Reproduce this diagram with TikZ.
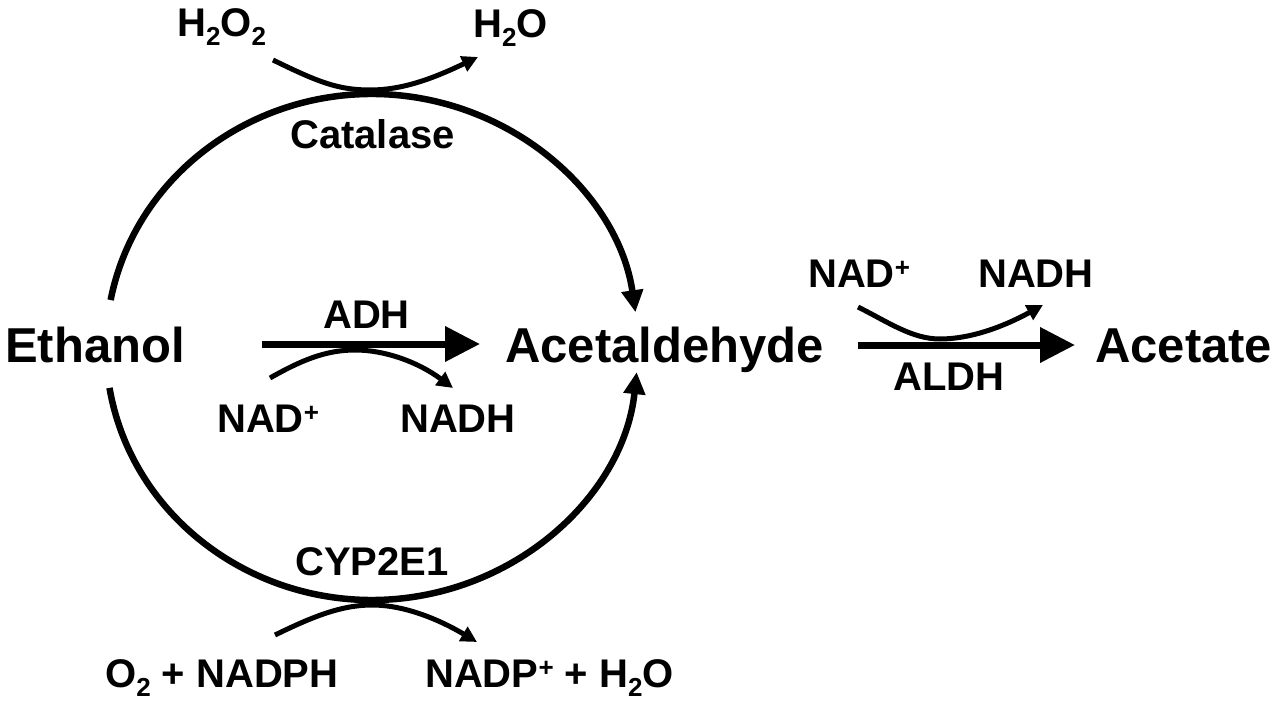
\documentclass[tikz,border=0pt]{standalone}
\usepackage{fontspec}
\setmainfont{Liberation Sans}
\usetikzlibrary{arrows.meta}
\newcommand\mysub[1]{\raisebox{-9pt}{\fontsize{26}{28}\selectfont #1}}
\newcommand\mysup[1]{\raisebox{11pt}{\fontsize{26}{28}\selectfont #1}}
\begin{document}
\begin{tikzpicture}[x=1pt,y=1pt,
  big/.style={font=\fontsize{49}{55}\selectfont\bfseries, inner sep=0pt, anchor=base west},
  small/.style={font=\fontsize{40}{45}\selectfont\bfseries, inner sep=0pt, anchor=base west},
  ring/.style={line width=6.5pt, -{Triangle[length=22pt,width=21pt]}},
  mainarrow/.style={line width=7pt, -{Triangle[length=35pt,width=34pt]}},
  side/.style={line width=5pt, -{Triangle[length=16pt,width=16pt]}},
]
\useasboundingbox (0,0) rectangle (1280,-706);

% compounds
\node[big] (eth) at (5,-362) {Ethanol};
\node[big] (ald) at (505,-362) {Acetaldehyde};
\node[big] (ace) at (1095,-362) {Acetate};

% labels
\node[small] (h2o2) at (177,-37) {H\mysub{2}O\mysub{2}};
\node[small] (h2o) at (473,-38) {H\mysub{2}O};
\node[small] (cat) at (290,-149) {Catalase};
\node[small] (adh) at (323,-328) {ADH};
\node[small] (nadA) at (217,-432) {NAD\mysup{+}};
\node[small] (nadhA) at (400,-432) {NADH};
\node[small] (nadB) at (808,-287) {NAD\mysup{+}};
\node[small] (nadhB) at (978,-287) {NADH};
\node[small] (aldh) at (893,-390) {ALDH};
\node[small] (cyp) at (295,-575) {CYP2E1};
\node[small] (o2) at (105,-687) {O\mysub{2} + NADPH};
\node[small] (nadp) at (425,-687) {NADP\mysup{+} + H\mysub{2}O};

% ring
\coordinate (C) at (372,-347);
\draw[ring] ([shift={(169.3:266pt and 253pt)}]C) arc[start angle=169.3, end angle=7.9, x radius=266pt, y radius=253pt];
\draw[ring] ([shift={(189.3:266pt and 253pt)}]C) arc[start angle=189.3, end angle=354.3, x radius=266pt, y radius=253pt];

% main arrows
\coordinate (adhS) at (262,-344);
\coordinate (adhE) at (480,-344);
\coordinate (aldhS) at (858,-345);
\coordinate (aldhE) at (1075,-345);
\draw[mainarrow] (adhS) -- (adhE);
\draw[mainarrow] (aldhS) -- (aldhE);

% side reactions
\coordinate (t1) at (273,-60);
\coordinate (t2) at (478,-57);
\draw[side] (t1) .. controls (318,-82) and (338,-90) .. (370,-90) .. controls (402,-90) and (432,-79) .. (t2);
\coordinate (a1) at (270,-378);
\coordinate (a2) at (453,-388);
\draw[side] (a1) .. controls (300,-361) and (325,-350) .. (355,-350) .. controls (385,-350) and (418,-362) .. (a2);
\coordinate (b1) at (858,-307);
\coordinate (b2) at (1043,-305);
\draw[side] (b1) .. controls (888,-322) and (912,-339) .. (940,-339) .. controls (970,-339) and (1003,-327) .. (b2);
\coordinate (c1) at (275,-635);
\coordinate (c2) at (477,-642);
\draw[side] (c1) .. controls (310,-618) and (340,-605) .. (372,-605) .. controls (405,-605) and (440,-620) .. (c2);
\end{tikzpicture}
\end{document}
